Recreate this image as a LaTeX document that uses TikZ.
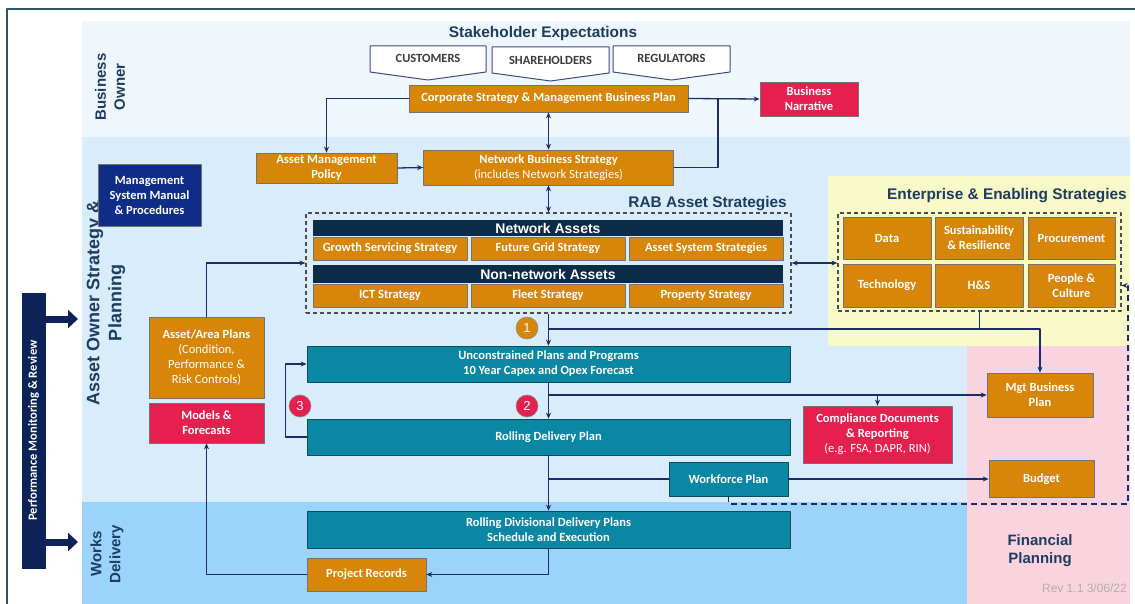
\documentclass[tikz,border=0pt]{standalone}
\usepackage{fontspec}
\setmainfont{Carlito}
\newfontfamily\headfont{Liberation Sans}
\usetikzlibrary{arrows.meta}
\definecolor{orgfill}{HTML}{D7860A}
\definecolor{tealfill}{HTML}{0B87A3}
\definecolor{tealline}{HTML}{0A4F5E}
\definecolor{redfill}{HTML}{E5204F}
\definecolor{barfill}{HTML}{0B2B46}
\definecolor{msmfill}{HTML}{0F2D86}
\definecolor{pmrfill}{HTML}{0C2358}
\definecolor{linkcol}{HTML}{1C2C6A}
\definecolor{headcol}{HTML}{1D3C5F}
\definecolor{stkline}{HTML}{3D4A80}
\definecolor{stktext}{HTML}{3A3A3A}
\definecolor{bizband}{HTML}{EFF7FD}
\definecolor{assetband}{HTML}{D8ECFB}
\definecolor{worksband}{HTML}{9BD3FB}
\definecolor{yelband}{HTML}{F7F9C7}
\definecolor{pinkband}{HTML}{F9D3DD}
\definecolor{framecol}{HTML}{2D5566}
\definecolor{revcol}{HTML}{B0B0B0}
\begin{document}
\begin{tikzpicture}[x=1pt, y=-1pt, line join=round, >={Stealth[length=6pt,width=5pt]}, font=\fontsize{12.5}{15}\selectfont\bfseries]
				\tikzset{box/.style={draw=black!55, line width=0.7pt, text=white, align=center, inner sep=1pt},
					obox/.style={box, fill=orgfill},
					tbox/.style={box, fill=tealfill, draw=tealline},
					rbox/.style={box, fill=redfill},
					nbar/.style={fill=barfill, text=white, font=\headfont\fontsize{14}{14}\selectfont\bfseries, inner sep=0pt},
					ttl/.style={text=headcol, font=\headfont\fontsize{15.4}{17}\selectfont\bfseries, inner sep=0pt},
					lane/.style={text=headcol, font=\headfont\fontsize{15}{19}\selectfont\bfseries, align=center, rotate=90, inner sep=0pt},
					grp/.style={draw=black!70, dash pattern=on 4pt off 3pt, line width=1.2pt},
					link/.style={draw=linkcol, line width=1.3pt},
					numdot/.style={circle, draw=black!45, line width=0.6pt, text=white, minimum size=22pt, inner sep=0pt, font=\headfont\fontsize{13}{13}\selectfont},
					stk/.style={draw=stkline, fill=white, line width=1pt}}
				\useasboundingbox (0,0) rectangle (1135,604);
				% lanes
				\fill[bizband] (82,21) rectangle (1130,137);
				\fill[assetband] (82,137) rectangle (1130,502);
				\fill[worksband] (82,502) rectangle (967,604);
				\fill[yelband] (828,176) rectangle (1130,346);
				\fill[pinkband] (967,346) rectangle (1130,604);
				\draw[framecol, line width=1.5pt] (7,9) rectangle (1140,620);
				\node[lane] (lbiz) at (110,87) {Business\\Owner};
				\node[lane, font=\headfont\fontsize{18}{22}\selectfont\bfseries] (lasset) at (106,303) {Asset Owner Strategy \&\\Planning};
				\node[lane] (lworks) at (107,554) {Works\\Delivery};
				\node[text=headcol, font=\headfont\fontsize{15}{18}\selectfont\bfseries, align=center] (lfin) at (1040,551) {Financial\\Planning};
				\node[text=revcol, font=\headfont\fontsize{12}{14}\selectfont, anchor=east, inner sep=0pt] (rev) at (1127,588) {Rev 1.1 3/06/22};
				% performance monitoring
				\node[box, fill=pmrfill, draw=pmrfill, rotate=90, minimum width=275pt, minimum height=23pt, font=\fontsize{12.5}{14}\selectfont\bfseries] (pmr) at (33.5,430.5) {Performance Monitoring \& Review};
				\coordinate (pa1) at (78,319);
				\coordinate (pa2) at (78,542);
				\draw[pmrfill, line width=7pt, -{Triangle[length=10pt,width=18pt]}] (pmr.south |- pa1) -- (pa1);
				\draw[pmrfill, line width=7pt, -{Triangle[length=10pt,width=18pt]}] (pmr.south |- pa2) -- (pa2);
				% stakeholders
				\node[ttl] (stk) at (543,34) {Stakeholder Expectations};
				\draw[stk] (370,46) -- (486,46) -- (486,72) -- (428,80) -- (370,72) -- cycle;
				\draw[stk] (492,47) -- (609,47) -- (609,73) -- (550.5,81) -- (492,73) -- cycle;
				\draw[stk] (613,46) -- (730,46) -- (730,72) -- (671.5,80) -- (613,72) -- cycle;
				\node[text=stktext] (cust) at (428,58) {CUSTOMERS};
				\node[text=stktext] (shs) at (550.5,60) {SHAREHOLDERS};
				\node[text=stktext] (reg) at (671.5,58) {REGULATORS};
				% business owner level
				\node[obox, minimum width=279pt, minimum height=27pt] (corp) at (548.5,98.5) {Corporate Strategy \& Management Business Plan};
				\node[rbox, minimum width=98pt, minimum height=34pt] (narr) at (809,99) {Business\\Narrative};
				\node[obox, minimum width=141pt, minimum height=30pt] (amp) at (326.5,168) {Asset Management\\Policy};
				\node[obox, minimum width=250pt, minimum height=35pt] (nbs) at (548.5,167.5) {Network Business Strategy\\\mdseries(includes Network Strategies)};
				\node[box, fill=msmfill, minimum width=103pt, minimum height=62pt] (msm) at (149.5,195) {Management\\System Manual\\\& Procedures};
				% RAB asset strategies
				\node[grp, minimum width=485pt, minimum height=100pt] (rab) at (548.5,263) {};
				\node[ttl, anchor=east] (rabt) at (787,204) {RAB Asset Strategies};
				\node[nbar, minimum width=470pt, minimum height=16pt] (net) at (548,228) {Network Assets};
				\node[obox, minimum width=154pt, minimum height=23pt] (gss) at (390,248.5) {Growth Servicing Strategy};
				\node[obox, minimum width=154pt, minimum height=23pt] (fgs) at (548,248.5) {Future Grid Strategy};
				\node[obox, minimum width=154pt, minimum height=23pt] (ass) at (706,248.5) {Asset System Strategies};
				\node[nbar, minimum width=470pt, minimum height=18pt] (nonnet) at (548,274) {Non-network Assets};
				\node[obox, minimum width=154pt, minimum height=23pt] (ict) at (390,295.5) {ICT Strategy};
				\node[obox, minimum width=154pt, minimum height=23pt] (fleet) at (548,295.5) {Fleet Strategy};
				\node[obox, minimum width=154pt, minimum height=23pt] (prop) at (706,295.5) {Property Strategy};
				% enterprise strategies
				\node[grp, minimum width=283pt, minimum height=98pt] (ent) at (979.5,262) {};
				\node[ttl, anchor=east] (entt) at (1127,196) {Enterprise \& Enabling Strategies};
				\node[obox, minimum width=88pt, minimum height=42pt] (data) at (887,238) {Data};
				\node[obox, minimum width=88pt, minimum height=42pt] (sus) at (979,238) {Sustainability\\\& Resilience};
				\node[obox, minimum width=87pt, minimum height=42pt] (proc) at (1071.5,238) {Procurement};
				\node[obox, minimum width=88pt, minimum height=43pt] (tech) at (887,285.5) {Technology};
				\node[obox, minimum width=88pt, minimum height=43pt] (hs) at (979,285.5) {H\&S};
				\node[obox, minimum width=87pt, minimum height=43pt] (pc) at (1071.5,285.5) {People \&\\Culture};
				% plans
				\node[tbox, minimum width=483pt, minimum height=36pt] (unc) at (548.5,364) {Unconstrained Plans and Programs\\10 Year Capex and Opex Forecast};
				\node[tbox, minimum width=483pt, minimum height=36pt] (rdp) at (548.5,437) {Rolling Delivery Plan};
				\node[tbox, minimum width=483pt, minimum height=37pt] (rdd) at (548.5,529.5) {Rolling Divisional Delivery Plans\\Schedule and Execution};
				\node[obox, minimum width=115pt, minimum height=81pt] (aap) at (206.5,357.5) {Asset/Area Plans\\\mdseries(Condition,\\\mdseries Performance \&\\\mdseries Risk Controls)};
				\node[rbox, minimum width=115pt, minimum height=40pt] (mod) at (206.5,423) {Models \&\\Forecasts};
				\node[rbox, minimum width=149pt, minimum height=57pt] (comp) at (877.5,434.5) {Compliance Documents\\\& Reporting\\\mdseries(e.g. FSA, DAPR, RIN)};
				\node[obox, minimum width=106pt, minimum height=44pt] (mbp) at (1040,395) {Mgt Business\\Plan};
				\node[obox, minimum width=105pt, minimum height=37pt] (bud) at (1041.5,479) {Budget};
				\node[tbox, minimum width=119pt, minimum height=34pt] (wfp) at (728.5,479) {Workforce Plan};
				\node[obox, minimum width=119pt, minimum height=33pt] (prj) at (366.5,574.5) {Project Records};
				% connectors
				\coordinate (j1) at (718,98.5);
				\coordinate (b1) at (548.5,329);
				\coordinate (b2) at (548.5,395);
				\coordinate (b3) at (548.5,479);
				\coordinate (d1) at (1128,504);
				\draw[link,->] (corp.west) -| (amp.north);
				\draw[link,->] (corp.east) -- (narr.west);
				\draw[link] (nbs.east) -| (j1);
				\draw[link,->] (amp.east) -- (nbs.west);
				\draw[link,<->] (corp.south) -- (nbs.north);
				\draw[link,<->] (nbs.south) -- (rab.north);
				\draw[link,->] (aap.north) |- (rab.west);
				\draw[link,<->] (rab.east) -- (rab.east -| ent.west);
				\draw[link,->] (rab.south) -- (unc.north);
				\draw[link,->] (b1) -| (mbp.north);
				\draw[link] (ent.south) -- (ent.south |- b1);
				\draw[link,->] (unc.south) -- (rdp.north);
				\draw[link,->] (b2) -- (mbp.west);
				\draw[link,->] (comp.north |- b2) -- (comp.north);
				\draw[link,->] (rdp.west) -- ++(-21,0) |- (unc.west);
				\draw[link,->] (rdp.south) -- (rdd.north);
				\draw[link] (b3) -- (wfp.west);
				\draw[link,->] (wfp.east) -- (bud.west);
				\draw[link, line width=1.5pt, dash pattern=on 6pt off 4pt, ->] (wfp.south) |- (d1) |- (pc.east -| ent.east);
				\draw[link,->] (rdd.south) |- (prj.east);
				\draw[link,->] (prj.west) -| (mod.south);
				% steps
				\node[numdot, fill=orgfill] (n1) at (527,328) {1};
				\node[numdot, fill=redfill] (n2) at (527,406) {2};
				\node[numdot, fill=redfill] (n3) at (300,406) {3};
			\end{tikzpicture}
\end{document}
